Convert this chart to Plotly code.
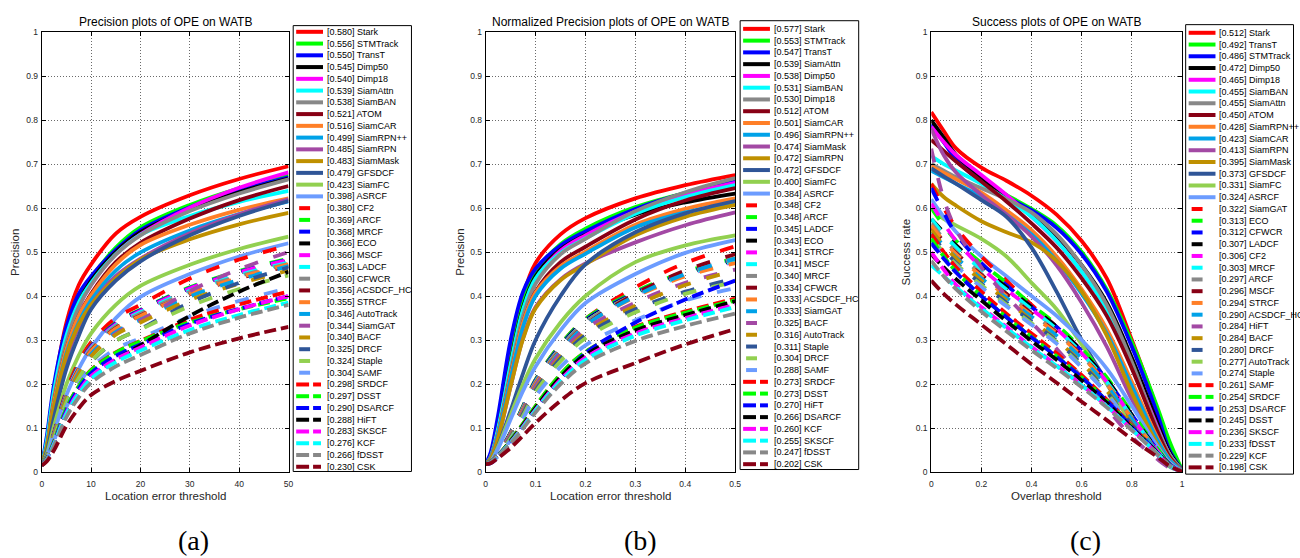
import plotly.graph_objects as go

W, H = 1300, 558

# ---------------- data: (a) precision ----------------
A_x = [0, 1, 2.5, 5, 7.5, 10, 15, 20, 30, 40, 50]
A_names = ["Stark", "STMTrack", "TransT", "Dimp50", "Dimp18", "SiamAttn", "SiamBAN", "ATOM",
           "SiamCAR", "SiamRPN++", "SiamRPN", "SiamMask", "GFSDCF", "SiamFC", "ASRCF",
           "CF2", "ARCF", "MRCF", "ECO", "MSCF", "LADCF", "CFWCR", "ACSDCF_HC", "STRCF",
           "AutoTrack", "SiamGAT", "BACF", "DRCF", "Staple", "SAMF",
           "SRDCF", "DSST", "DSARCF", "HiFT", "SKSCF", "KCF", "fDSST", "CSK"]
A_scores = [0.580, 0.556, 0.550, 0.545, 0.540, 0.539, 0.538, 0.521, 0.516, 0.499, 0.485, 0.483,
            0.479, 0.423, 0.398, 0.380, 0.369, 0.368, 0.366, 0.366, 0.363, 0.360, 0.356, 0.355,
            0.346, 0.344, 0.340, 0.325, 0.324, 0.304, 0.298, 0.297, 0.290, 0.288, 0.283, 0.276,
            0.266, 0.230]
A_curves = [
    [0.015, 0.070, 0.190, 0.340, 0.425, 0.472, 0.542, 0.580, 0.629, 0.666, 0.695],
    [0.015, 0.065, 0.180, 0.310, 0.390, 0.440, 0.510, 0.556, 0.607, 0.645, 0.675],
    [0.015, 0.080, 0.200, 0.330, 0.405, 0.445, 0.505, 0.550, 0.602, 0.640, 0.670],
    [0.015, 0.065, 0.180, 0.305, 0.385, 0.435, 0.500, 0.545, 0.597, 0.636, 0.667],
    [0.015, 0.060, 0.170, 0.295, 0.375, 0.425, 0.495, 0.540, 0.601, 0.646, 0.681],
    [0.015, 0.070, 0.185, 0.310, 0.385, 0.430, 0.495, 0.539, 0.582, 0.614, 0.639],
    [0.015, 0.060, 0.170, 0.295, 0.375, 0.425, 0.494, 0.538, 0.593, 0.633, 0.665],
    [0.015, 0.055, 0.160, 0.280, 0.355, 0.405, 0.477, 0.521, 0.576, 0.618, 0.650],
    [0.015, 0.055, 0.160, 0.280, 0.355, 0.402, 0.472, 0.516, 0.562, 0.596, 0.622],
    [0.015, 0.055, 0.150, 0.270, 0.340, 0.390, 0.458, 0.499, 0.549, 0.586, 0.615],
    [0.015, 0.050, 0.140, 0.255, 0.330, 0.380, 0.445, 0.485, 0.543, 0.586, 0.620],
    [0.015, 0.055, 0.150, 0.265, 0.335, 0.380, 0.440, 0.483, 0.529, 0.563, 0.589],
    [0.015, 0.045, 0.125, 0.235, 0.310, 0.370, 0.435, 0.479, 0.538, 0.582, 0.616],
    [0.015, 0.040, 0.105, 0.200, 0.265, 0.315, 0.380, 0.423, 0.471, 0.507, 0.535],
    [0.015, 0.035, 0.090, 0.175, 0.235, 0.283, 0.350, 0.398, 0.450, 0.490, 0.520],
    [0.015, 0.035, 0.090, 0.185, 0.250, 0.295, 0.350, 0.380, 0.440, 0.483, 0.515],
    [0.015, 0.035, 0.088, 0.180, 0.243, 0.287, 0.339, 0.369, 0.420, 0.457, 0.485],
    [0.015, 0.035, 0.088, 0.180, 0.242, 0.286, 0.338, 0.368, 0.418, 0.455, 0.483],
    [0.015, 0.034, 0.087, 0.178, 0.240, 0.284, 0.336, 0.366, 0.416, 0.453, 0.480],
    [0.015, 0.034, 0.087, 0.178, 0.240, 0.284, 0.336, 0.366, 0.417, 0.454, 0.482],
    [0.015, 0.034, 0.086, 0.176, 0.238, 0.281, 0.333, 0.363, 0.412, 0.448, 0.476],
    [0.015, 0.034, 0.085, 0.175, 0.236, 0.279, 0.331, 0.360, 0.409, 0.445, 0.473],
    [0.015, 0.033, 0.084, 0.173, 0.233, 0.276, 0.327, 0.356, 0.404, 0.440, 0.468],
    [0.015, 0.033, 0.084, 0.172, 0.232, 0.275, 0.326, 0.355, 0.405, 0.442, 0.472],
    [0.015, 0.033, 0.082, 0.168, 0.226, 0.268, 0.318, 0.346, 0.399, 0.437, 0.468],
    [0.015, 0.030, 0.078, 0.162, 0.221, 0.263, 0.315, 0.344, 0.411, 0.461, 0.500],
    [0.015, 0.032, 0.081, 0.165, 0.222, 0.263, 0.312, 0.340, 0.391, 0.428, 0.458],
    [0.015, 0.030, 0.075, 0.155, 0.210, 0.250, 0.298, 0.325, 0.385, 0.430, 0.465],
    [0.015, 0.031, 0.077, 0.158, 0.213, 0.252, 0.298, 0.324, 0.377, 0.416, 0.447],
    [0.015, 0.029, 0.072, 0.148, 0.200, 0.237, 0.280, 0.304, 0.353, 0.389, 0.418],
    [0.015, 0.030, 0.070, 0.145, 0.195, 0.232, 0.272, 0.298, 0.346, 0.381, 0.410],
    [0.015, 0.030, 0.070, 0.145, 0.195, 0.231, 0.271, 0.297, 0.340, 0.370, 0.395],
    [0.015, 0.029, 0.067, 0.140, 0.190, 0.225, 0.264, 0.290, 0.337, 0.371, 0.400],
    [0.015, 0.028, 0.065, 0.133, 0.180, 0.214, 0.255, 0.288, 0.355, 0.410, 0.455],
    [0.015, 0.028, 0.065, 0.135, 0.183, 0.218, 0.256, 0.283, 0.333, 0.370, 0.400],
    [0.015, 0.028, 0.064, 0.132, 0.178, 0.212, 0.250, 0.276, 0.323, 0.357, 0.385],
    [0.015, 0.027, 0.060, 0.125, 0.170, 0.203, 0.240, 0.266, 0.315, 0.351, 0.380],
    [0.015, 0.024, 0.050, 0.105, 0.145, 0.175, 0.207, 0.230, 0.272, 0.304, 0.330],
]

# ---------------- data: (b) normalized precision ----------------
B_x = [0, 0.01, 0.025, 0.05, 0.075, 0.1, 0.15, 0.2, 0.3, 0.4, 0.5]
B_names = ["Stark", "STMTrack", "TransT", "SiamAttn", "Dimp50", "SiamBAN", "Dimp18", "ATOM",
           "SiamCAR", "SiamRPN++", "SiamMask", "SiamRPN", "GFSDCF", "SiamFC", "ASRCF",
           "CF2", "ARCF", "LADCF", "ECO", "STRCF", "MSCF", "MRCF", "CFWCR", "ACSDCF_HC",
           "SiamGAT", "BACF", "AutoTrack", "Staple", "DRCF", "SAMF",
           "SRDCF", "DSST", "HiFT", "DSARCF", "KCF", "SKSCF", "fDSST", "CSK"]
B_scores = [0.577, 0.553, 0.547, 0.539, 0.538, 0.531, 0.530, 0.512, 0.501, 0.496, 0.474, 0.472,
            0.472, 0.400, 0.384, 0.348, 0.348, 0.345, 0.343, 0.341, 0.341, 0.340, 0.334, 0.333,
            0.333, 0.325, 0.316, 0.311, 0.304, 0.288, 0.273, 0.273, 0.270, 0.266, 0.260, 0.255,
            0.247, 0.202]
B_curves = [
    [0.018, 0.035, 0.100, 0.260, 0.400, 0.475, 0.540, 0.577, 0.622, 0.652, 0.675],
    [0.018, 0.035, 0.100, 0.255, 0.385, 0.455, 0.518, 0.553, 0.602, 0.634, 0.657],
    [0.018, 0.045, 0.130, 0.300, 0.410, 0.462, 0.515, 0.547, 0.598, 0.634, 0.660],
    [0.018, 0.035, 0.100, 0.250, 0.375, 0.445, 0.506, 0.539, 0.585, 0.613, 0.633],
    [0.018, 0.035, 0.095, 0.240, 0.365, 0.437, 0.503, 0.538, 0.592, 0.630, 0.657],
    [0.018, 0.035, 0.100, 0.245, 0.370, 0.440, 0.498, 0.531, 0.587, 0.625, 0.652],
    [0.018, 0.033, 0.090, 0.230, 0.355, 0.428, 0.495, 0.530, 0.593, 0.636, 0.668],
    [0.018, 0.033, 0.088, 0.220, 0.340, 0.410, 0.477, 0.512, 0.574, 0.617, 0.645],
    [0.018, 0.033, 0.090, 0.220, 0.340, 0.408, 0.468, 0.501, 0.562, 0.598, 0.622],
    [0.018, 0.033, 0.087, 0.213, 0.330, 0.400, 0.462, 0.496, 0.556, 0.590, 0.612],
    [0.018, 0.030, 0.078, 0.195, 0.305, 0.375, 0.438, 0.474, 0.522, 0.561, 0.590],
    [0.018, 0.030, 0.078, 0.195, 0.303, 0.372, 0.436, 0.472, 0.538, 0.580, 0.607],
    [0.018, 0.025, 0.060, 0.140, 0.225, 0.300, 0.400, 0.472, 0.545, 0.588, 0.616],
    [0.018, 0.025, 0.058, 0.130, 0.200, 0.258, 0.340, 0.400, 0.477, 0.515, 0.538],
    [0.018, 0.024, 0.054, 0.120, 0.185, 0.240, 0.322, 0.384, 0.450, 0.498, 0.527],
    [0.018, 0.024, 0.042, 0.090, 0.150, 0.210, 0.290, 0.348, 0.420, 0.475, 0.513],
    [0.018, 0.024, 0.042, 0.090, 0.150, 0.210, 0.290, 0.348, 0.410, 0.455, 0.485],
    [0.018, 0.024, 0.042, 0.089, 0.148, 0.208, 0.287, 0.345, 0.407, 0.452, 0.482],
    [0.018, 0.024, 0.042, 0.088, 0.147, 0.206, 0.285, 0.343, 0.405, 0.450, 0.480],
    [0.018, 0.024, 0.041, 0.087, 0.146, 0.205, 0.283, 0.341, 0.402, 0.447, 0.478],
    [0.018, 0.024, 0.041, 0.087, 0.146, 0.205, 0.283, 0.341, 0.403, 0.448, 0.480],
    [0.018, 0.024, 0.041, 0.087, 0.145, 0.204, 0.282, 0.340, 0.405, 0.452, 0.485],
    [0.018, 0.023, 0.040, 0.085, 0.142, 0.200, 0.277, 0.334, 0.405, 0.458, 0.495],
    [0.018, 0.023, 0.040, 0.085, 0.142, 0.200, 0.276, 0.333, 0.398, 0.445, 0.475],
    [0.018, 0.022, 0.038, 0.082, 0.138, 0.196, 0.274, 0.333, 0.400, 0.450, 0.485],
    [0.018, 0.023, 0.040, 0.083, 0.138, 0.195, 0.270, 0.325, 0.385, 0.430, 0.460],
    [0.018, 0.023, 0.039, 0.080, 0.134, 0.189, 0.262, 0.316, 0.378, 0.425, 0.458],
    [0.018, 0.023, 0.039, 0.079, 0.132, 0.186, 0.258, 0.311, 0.370, 0.410, 0.440],
    [0.018, 0.022, 0.038, 0.077, 0.128, 0.181, 0.252, 0.304, 0.363, 0.405, 0.432],
    [0.018, 0.022, 0.036, 0.073, 0.122, 0.172, 0.239, 0.288, 0.345, 0.390, 0.418],
    [0.018, 0.022, 0.038, 0.072, 0.110, 0.150, 0.222, 0.273, 0.330, 0.365, 0.394],
    [0.018, 0.022, 0.038, 0.072, 0.110, 0.150, 0.222, 0.273, 0.328, 0.362, 0.390],
    [0.018, 0.020, 0.034, 0.066, 0.104, 0.143, 0.212, 0.270, 0.340, 0.392, 0.435],
    [0.018, 0.022, 0.038, 0.070, 0.107, 0.146, 0.216, 0.266, 0.322, 0.357, 0.388],
    [0.018, 0.022, 0.037, 0.068, 0.104, 0.142, 0.210, 0.260, 0.315, 0.350, 0.380],
    [0.018, 0.022, 0.037, 0.067, 0.102, 0.140, 0.206, 0.255, 0.310, 0.345, 0.375],
    [0.018, 0.022, 0.036, 0.065, 0.099, 0.136, 0.200, 0.247, 0.298, 0.332, 0.360],
    [0.018, 0.020, 0.032, 0.055, 0.083, 0.112, 0.162, 0.202, 0.248, 0.290, 0.325],
]

# ---------------- data: (c) success ----------------
C_x = [0, 0.05, 0.1, 0.2, 0.3, 0.4, 0.5, 0.6, 0.7, 0.8, 0.9, 0.95, 1.0]
C_names = ["Stark", "TransT", "STMTrack", "Dimp50", "Dimp18", "SiamBAN", "SiamAttn", "ATOM",
           "SiamRPN++", "SiamCAR", "SiamRPN", "SiamMask", "GFSDCF", "SiamFC", "ASRCF",
           "SiamGAT", "ECO", "CFWCR", "LADCF", "CF2", "MRCF", "ARCF", "MSCF", "STRCF",
           "ACSDCF_HC", "HiFT", "BACF", "DRCF", "AutoTrack", "Staple",
           "SAMF", "SRDCF", "DSARCF", "DSST", "SKSCF", "fDSST", "KCF", "CSK"]
C_scores = [0.512, 0.492, 0.486, 0.472, 0.465, 0.455, 0.455, 0.450, 0.428, 0.423, 0.413, 0.395,
            0.373, 0.331, 0.324, 0.322, 0.313, 0.312, 0.307, 0.306, 0.303, 0.297, 0.296, 0.294,
            0.290, 0.284, 0.284, 0.280, 0.277, 0.274, 0.261, 0.254, 0.253, 0.245, 0.236, 0.233,
            0.229, 0.198]
C_curves = [
    [0.818, 0.775, 0.735, 0.692, 0.662, 0.628, 0.585, 0.525, 0.44, 0.30, 0.145, 0.06, 0.005],
    [0.785, 0.75, 0.715, 0.665, 0.63, 0.598, 0.56, 0.50, 0.415, 0.295, 0.15, 0.07, 0.005],
    [0.79, 0.75, 0.71, 0.66, 0.625, 0.595, 0.555, 0.495, 0.41, 0.285, 0.135, 0.05, 0.005],
    [0.80, 0.76, 0.72, 0.67, 0.625, 0.585, 0.535, 0.47, 0.385, 0.26, 0.115, 0.045, 0.004],
    [0.785, 0.75, 0.72, 0.675, 0.63, 0.58, 0.525, 0.455, 0.37, 0.245, 0.105, 0.04, 0.004],
    [0.718, 0.70, 0.685, 0.655, 0.62, 0.58, 0.525, 0.455, 0.37, 0.24, 0.10, 0.04, 0.004],
    [0.70, 0.685, 0.67, 0.645, 0.62, 0.59, 0.54, 0.47, 0.38, 0.25, 0.10, 0.04, 0.004],
    [0.755, 0.73, 0.705, 0.66, 0.615, 0.565, 0.51, 0.44, 0.355, 0.235, 0.095, 0.035, 0.003],
    [0.695, 0.68, 0.665, 0.635, 0.595, 0.55, 0.49, 0.415, 0.325, 0.205, 0.08, 0.03, 0.003],
    [0.685, 0.67, 0.655, 0.625, 0.585, 0.54, 0.48, 0.405, 0.315, 0.195, 0.075, 0.028, 0.003],
    [0.78, 0.72, 0.68, 0.63, 0.585, 0.535, 0.47, 0.385, 0.285, 0.165, 0.06, 0.02, 0.002],
    [0.655, 0.625, 0.605, 0.57, 0.545, 0.522, 0.48, 0.41, 0.31, 0.18, 0.065, 0.022, 0.002],
    [0.69, 0.672, 0.655, 0.618, 0.58, 0.51, 0.41, 0.30, 0.205, 0.115, 0.045, 0.015, 0.001],
    [0.60, 0.575, 0.56, 0.53, 0.49, 0.43, 0.37, 0.29, 0.20, 0.11, 0.04, 0.015, 0.001],
    [0.62, 0.58, 0.545, 0.49, 0.445, 0.40, 0.355, 0.30, 0.235, 0.15, 0.06, 0.022, 0.002],
    [0.655, 0.60, 0.555, 0.49, 0.435, 0.38, 0.33, 0.275, 0.205, 0.125, 0.05, 0.018, 0.001],
    [0.60, 0.56, 0.525, 0.475, 0.43, 0.38, 0.335, 0.28, 0.215, 0.135, 0.055, 0.02, 0.001],
    [0.645, 0.59, 0.54, 0.475, 0.425, 0.375, 0.33, 0.275, 0.21, 0.13, 0.052, 0.018, 0.001],
    [0.575, 0.545, 0.515, 0.465, 0.42, 0.375, 0.33, 0.275, 0.21, 0.13, 0.052, 0.018, 0.001],
    [0.61, 0.565, 0.525, 0.465, 0.415, 0.37, 0.325, 0.27, 0.205, 0.125, 0.05, 0.017, 0.001],
    [0.575, 0.54, 0.51, 0.46, 0.415, 0.37, 0.325, 0.27, 0.205, 0.125, 0.05, 0.017, 0.001],
    [0.565, 0.53, 0.50, 0.45, 0.405, 0.362, 0.318, 0.265, 0.20, 0.122, 0.048, 0.016, 0.001],
    [0.555, 0.525, 0.497, 0.448, 0.405, 0.36, 0.317, 0.265, 0.20, 0.122, 0.048, 0.016, 0.001],
    [0.56, 0.525, 0.495, 0.445, 0.40, 0.357, 0.315, 0.263, 0.20, 0.122, 0.048, 0.016, 0.001],
    [0.545, 0.515, 0.487, 0.44, 0.396, 0.353, 0.31, 0.258, 0.196, 0.12, 0.047, 0.016, 0.001],
    [0.735, 0.62, 0.55, 0.465, 0.40, 0.34, 0.28, 0.215, 0.145, 0.08, 0.03, 0.01, 0.001],
    [0.55, 0.515, 0.485, 0.435, 0.39, 0.345, 0.30, 0.248, 0.185, 0.11, 0.042, 0.014, 0.001],
    [0.54, 0.505, 0.475, 0.428, 0.385, 0.342, 0.298, 0.245, 0.182, 0.108, 0.04, 0.013, 0.001],
    [0.53, 0.50, 0.472, 0.425, 0.38, 0.338, 0.295, 0.24, 0.18, 0.105, 0.04, 0.013, 0.001],
    [0.525, 0.495, 0.468, 0.42, 0.377, 0.335, 0.292, 0.238, 0.178, 0.103, 0.04, 0.013, 0.001],
    [0.54, 0.50, 0.465, 0.41, 0.36, 0.315, 0.27, 0.22, 0.165, 0.105, 0.045, 0.016, 0.001],
    [0.53, 0.49, 0.455, 0.40, 0.352, 0.307, 0.263, 0.215, 0.162, 0.103, 0.045, 0.016, 0.001],
    [0.52, 0.485, 0.453, 0.40, 0.352, 0.306, 0.262, 0.215, 0.162, 0.103, 0.045, 0.016, 0.001],
    [0.495, 0.465, 0.438, 0.39, 0.343, 0.298, 0.255, 0.208, 0.158, 0.10, 0.045, 0.016, 0.001],
    [0.50, 0.46, 0.425, 0.375, 0.33, 0.285, 0.243, 0.198, 0.15, 0.097, 0.043, 0.015, 0.001],
    [0.47, 0.445, 0.42, 0.372, 0.327, 0.283, 0.241, 0.197, 0.15, 0.097, 0.043, 0.015, 0.001],
    [0.48, 0.445, 0.415, 0.365, 0.32, 0.277, 0.236, 0.193, 0.147, 0.095, 0.042, 0.015, 0.001],
    [0.435, 0.405, 0.38, 0.335, 0.29, 0.245, 0.203, 0.16, 0.118, 0.075, 0.035, 0.014, 0.001],
]

# ---------------- styling ----------------
COLORS = ["#FF0000", "#00FF00", "#0000FF", "#000000", "#FF00FF", "#00FFFF", "#888888",
          "#880015", "#FF7F27", "#00A2E8", "#A349A4", "#BF9000", "#2F5597", "#92D050",
          "#6C9CFF"]
SANS = "Liberation Sans, Arial, Helvetica, sans-serif"
AXC = "#262626"


def style(i):
    if i < 15:
        return COLORS[i], "solid", 0
    if i < 30:
        return COLORS[i - 15], "14px,16px", 1
    return COLORS[i - 30], "12px,5px", 2


def fx(p):
    return p / W


def fy(p):
    return 1 - p / H


panels = [
    dict(x=A_x, names=A_names, scores=A_scores, curves=A_curves, ax="", px=(40, 288.3),
         title="Precision plots of OPE on WATB", xt="Location error threshold",
         yt="Precision", ytx=13, xr=[0, 50], xd=10,
         leg=(293, 21, 412, 475, 27.3, 11.97), lab="(a)", labx=193),
    dict(x=B_x, names=B_names, scores=B_scores, curves=B_curves, ax="2", px=(486.7, 737.7),
         title="Normalized Precision plots of OPE on WATB", xt="Location error threshold",
         yt="Precision", ytx=460.5, xr=[0, 0.5], xd=0.1,
         leg=(742.7, 16, 862, 473, 24.3, 11.98), lab="(b)", labx=642),
    dict(x=C_x, names=C_names, scores=C_scores, curves=C_curves, ax="3", px=(935, 1187.3),
         title="Success plots of OPE on WATB", xt="Overlap threshold",
         yt="Success rate", ytx=910, xr=[0, 1], xd=0.2,
         leg=(1191, 20, 1299.5, 477.7, 28.3, 11.96), lab="(c)", labx=1090),
]

PT, PB = 27.5, 475.6

fig = go.Figure()
shapes = []
annos = []

for p in panels:
    ax = p["ax"]
    for i, yv in enumerate(p["curves"]):
        col, dash, _ = style(i)
        fig.add_trace(go.Scatter(
            x=p["x"], y=yv, mode="lines",
            line=dict(color=col, width=3.8, dash=dash, shape="spline", smoothing=1.0),
            xaxis="x" + ax, yaxis="y" + ax, showlegend=False, hoverinfo="skip"))

    axis_common = dict(showline=True, linecolor="black", linewidth=1, mirror="ticks",
                       ticks="inside", ticklen=4, tickcolor="black", showgrid=True,
                       gridcolor="#6a6a6a", griddash="1px,2px", gridwidth=1,
                       zeroline=False, tickfont=dict(family=SANS, size=8.5, color=AXC))
    fig.layout["xaxis" + ax] = dict(domain=[fx(p["px"][0]), fx(p["px"][1])],
                                    range=p["xr"], dtick=p["xd"], tick0=0,
                                    anchor="y" + ax, ticklabelstandoff=4, **axis_common)
    fig.layout["yaxis" + ax] = dict(domain=[fy(PB), fy(PT)], range=[0, 1], dtick=0.1,
                                    tick0=0, anchor="x" + ax, ticklabelstandoff=1,
                                    **axis_common)

    cx = (p["px"][0] + p["px"][1]) / 2
    annos.append(dict(x=fx(cx), y=fy(17.5), xref="paper", yref="paper", text=p["title"],
                      showarrow=False, xanchor="center", yanchor="middle",
                      font=dict(family=SANS, size=12, color="black")))
    annos.append(dict(x=fx(cx), y=fy(499.5), xref="paper", yref="paper", text=p["xt"],
                      showarrow=False, xanchor="center", yanchor="middle",
                      font=dict(family=SANS, size=11.5, color=AXC)))
    annos.append(dict(x=fx(p["ytx"]), y=fy((PT + PB) / 2), xref="paper", yref="paper",
                      text=p["yt"], textangle=-90, showarrow=False, xanchor="center",
                      yanchor="middle", font=dict(family=SANS, size=11.5, color=AXC)))
    annos.append(dict(x=fx(p["labx"]), y=fy(545), xref="paper", yref="paper", text=p["lab"],
                      showarrow=False, xanchor="center", yanchor="middle",
                      font=dict(family="Liberation Serif, Times New Roman, serif", size=28,
                                color="black")))

    # legend box
    lx0, ly0, lx1, ly1, first, step = p["leg"]
    shapes.append(dict(type="rect", xref="paper", yref="paper", x0=fx(lx0), x1=fx(lx1),
                       y0=fy(ly1), y1=fy(ly0), line=dict(color="black", width=1),
                       fillcolor="white", layer="below"))
    sx = lx0 + 3
    for i, (n, s) in enumerate(zip(p["names"], p["scores"])):
        col, _, grp = style(i)
        yc = first + i * step
        if grp == 0:
            segs = [(sx, sx + 27)]
        elif grp == 1:
            segs = [(sx + 3, sx + 14)]
        else:
            segs = [(sx, sx + 13), (sx + 17, sx + 25)]
        for a, b in segs:
            shapes.append(dict(type="line", xref="paper", yref="paper", x0=fx(a), x1=fx(b),
                               y0=fy(yc), y1=fy(yc), line=dict(color=col, width=4)))
        annos.append(dict(x=fx(sx + 29), y=fy(yc), xref="paper", yref="paper",
                          text=f"[{s:.3f}] {n}", showarrow=False, xanchor="left",
                          yanchor="middle", font=dict(family=SANS, size=9, color="black")))

fig.update_layout(width=W, height=H, autosize=False,
                  margin=dict(l=0, r=0, t=0, b=0, pad=0),
                  paper_bgcolor="white", plot_bgcolor="white",
                  shapes=shapes, annotations=annos, showlegend=False)

fig.write_html("out.html", config={"displayModeBar": False, "staticPlot": True},
               post_script="document.body.style.margin='0';document.body.style.overflow='hidden';")
